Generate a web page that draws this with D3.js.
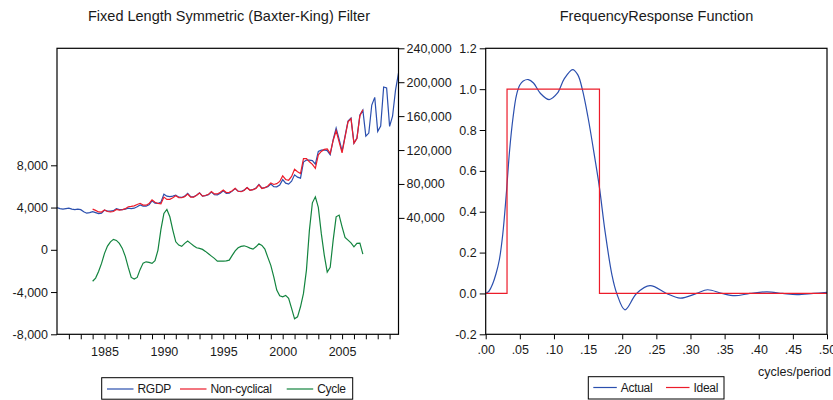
<!DOCTYPE html>
<html><head><meta charset="utf-8">
<script src="https://cdn.jsdelivr.net/npm/d3@7"></script>
<style>
body{margin:0;background:#fff}
svg text{font-family:"Liberation Sans",Arial,sans-serif;fill:#1a1a1a}
</style>
</head><body>
<svg id="c" width="833" height="400"></svg>
<script>
// ---------------- data ----------------
const firstYear = 1981;               // 1981Q1, quarterly
const rgdp = [
 52050,50870,50270,50870, 51460,50270,49680,50270, 49680,47320,45550,46140, 47320,46140,44960,45550,
 49090,47910,47910,48500, 50870,49680,49680,50270, 51460,50870,51460,53230, 55350,53820,53820,55590,
 60070,57360,57000,58540, 67980,65620,65030,65620, 66800,64440,64090,65620, 68810,65030,64800,66800,
 69520,65620,66210,67390, 70340,67390,67160,69160, 71880,68810,69160,71530, 74710,71530,71170,72710,
 75900,72710,73300,75070, 79440,75070,75660,76840, 79790,76840,76600,78610, 85100,80970,79790,83330,
 90770,88050,86870,105760, 108120,108120,107530,103400, 118400,119930,120280,119340, 114380,132210,145900,132920,
 118750,136460,154170,157710, 128190,134100,161250,167150, 136460,140000,173060,182150, 142010,148260,194310,193130,
 147910,160070,190770,210840
];
const cycleFirstIndex = 12;           // 1984Q1 .. 2006Q4
const cycle = [
 -2980,-2680,-2045,-1290, -340,350,757,985, 890,606,133,-625, -1666,-2613,-2774,-2613,
 -1855,-1260,-1136,-1196, -1290,-1040,-30,1930, 3446,3824,3124,1865, 757,445,322,606,
 824,606,379,189, 133,38,-151,-379, -597,-814,-1070,-1070, -1070,-1040,-975,-530,
 -95,189,322,379, 284,161,66,284, 568,416,66,-720, -1477,-2556,-3815,-4355,
 -4450,-4317,-4601,-5548, -6532,-6343,-5396,-4128, -1922,1865,4450,5017, 4014,1552,-502,-2111,
 -1666,918,3124,3285, 2177,1174,918,663, 284,606,634,-407
];
const nonCyclical = [
 50300,48820,47005,46840, 49430,47560,47153,47515, 49980,49074,49547,50895, 53126,53483,54234,55843,
 57205,55080,54956,56786, 61360,58400,57030,56610, 64534,61796,61906,63755, 66043,63995,63768,65014,
 67986,64424,64421,66611, 69387,65582,66361,67769, 70937,68204,68230,70230, 72950,69850,70135,72060,
 74805,71341,70848,72331, 75616,72549,73234,74786, 78872,74654,75594,77560, 81267,79396,80415,82965,
 89550,85287,84391,88878, 97302,94393,92266,109888, 110042,106255,103080,98383, 114386,118378,120782,121451,
 116046,131292,142776,129635, 116573,135286,153252,157047, 127906,133494,160616,167557
];

const leftTicks = [-8000,-4000,0,4000,8000];
const rightTicks = [40000,80000,120000,160000,200000,240000];
const yearLabels = [1985,1990,1995,2000,2005];

const freq   = [0,0.005,0.01,0.015,0.02,0.025,0.03,0.035,0.04,0.045,0.05,0.055,0.0625,0.07,0.08,0.093,0.105,0.115,0.1274,0.135,0.1415,0.15,0.16,0.1667,0.175,0.185,0.192,0.204,0.221,0.2407,0.265,0.285,0.309,0.325,0.346,0.365,0.387,0.412,0.435,0.456,0.48,0.5];
const actual = [0,0.012,0.045,0.095,0.165,0.29,0.48,0.70,0.86,0.97,1.02,1.04,1.047,1.03,0.98,0.949,0.98,1.05,1.096,1.07,1.0,0.86,0.66,0.517,0.30,0.09,0.0,-0.08,0,0.038,0,-0.023,0,0.018,0,-0.011,0,0.008,0,-0.006,0,0.005];
const idealFreq = [0,0.03125,0.03125,0.16667,0.16667,0.5];
const idealVal  = [0,0,1,1,0,0];
const freqTicks = [0,0.05,0.1,0.15,0.2,0.25,0.3,0.35,0.4,0.45,0.5];
const respTicks = [-0.2,0,0.2,0.4,0.6,0.8,1.0,1.2];

// ---------------- styles ----------------
const BLUE="#2b4fae", RED="#ec1c2a", GREEN="#13843f";
const loc = d3.formatLocale({decimal:".",thousands:",",grouping:[3],currency:["",""],minus:"-"});
const fmtInt = loc.format(",");
const fmt1 = loc.format(".1f");
const fmtF = d => loc.format(".2f")(d).replace(/^0/,"");

const svg = d3.select("#c");

// ---------------- left chart ----------------
const L = {x0:57,x1:398.5,y0:48.3,y1:334.3};
const x = d3.scaleLinear().domain([1981,2009.75]).range([L.x0,L.x1]);
const yL = d3.scaleLinear().domain([-8000,19077]).range([L.y1,L.y0]);
const yR = d3.scaleLinear().domain([-97300,240000]).range([L.y1,L.y0]);
const tq = i => firstYear + i/4;

svg.append("text").attr("x",229).attr("y",21).attr("text-anchor","middle")
  .style("font-size","14.5px").text("Fixed Length Symmetric (Baxter-King) Filter");

const gl = svg.append("g");
const axL = gl.append("g").attr("transform",`translate(${L.x0},0)`)
  .call(d3.axisLeft(yL).tickValues(leftTicks).tickFormat(fmtInt).tickSize(6).tickPadding(3));
const axR = gl.append("g").attr("transform",`translate(${L.x1},0)`)
  .call(d3.axisRight(yR).tickValues(rightTicks).tickFormat(fmtInt).tickSize(6).tickPadding(2));
const years = d3.range(1982,2010);
const axB = gl.append("g").attr("transform",`translate(0,${L.y1})`)
  .call(d3.axisBottom(x).tickValues(years).tickFormat(d=>yearLabels.includes(d)?String(d):"").tickSize(5).tickPadding(8));
[axL,axR,axB].forEach(a=>{a.select(".domain").remove();a.selectAll("line").attr("stroke","#000");
  a.selectAll("text").style("font-size","12.5px").attr("fill","#1a1a1a");});

const lineR = d3.line().x(d=>x(d[0])).y(d=>yR(d[1]));
const lineL = d3.line().x(d=>x(d[0])).y(d=>yL(d[1]));
gl.append("path").attr("d",lineR(rgdp.map((v,i)=>[tq(i),v]))).attr("fill","none").attr("stroke",BLUE).attr("stroke-width",1.2);
gl.append("path").attr("d",lineR(nonCyclical.map((v,k)=>[tq(k+cycleFirstIndex),v]))).attr("fill","none").attr("stroke",RED).attr("stroke-width",1.2);
gl.append("path").attr("d",lineL(cycle.map((v,k)=>[tq(k+cycleFirstIndex),v]))).attr("fill","none").attr("stroke",GREEN).attr("stroke-width",1.2);
gl.append("rect").attr("x",L.x0).attr("y",L.y0).attr("width",L.x1-L.x0).attr("height",L.y1-L.y0)
  .attr("fill","none").attr("stroke","#000").attr("stroke-width",1.2);

// legend left
const lg = svg.append("g");
lg.append("rect").attr("x",101.7).attr("y",377.7).attr("width",251).attr("height",21.5).attr("fill","#fff").attr("stroke","#000");
[["RGDP",BLUE,107],["Non-cyclical",RED,180],["Cycle",GREEN,286.7]].forEach(([t,c,lx])=>{
  lg.append("line").attr("x1",lx).attr("x2",lx+26.5).attr("y1",389).attr("y2",389).attr("stroke",c).attr("stroke-width",1.2);
  lg.append("text").attr("x",lx+30.5).attr("y",393.3).style("font-size","12px").style("letter-spacing","-0.3px").text(t);
});

// ---------------- right chart ----------------
const R = {x0:485.7,x1:827,y0:48.3,y1:334.3};
const fx = d3.scaleLinear().domain([0,0.5]).range([R.x0,R.x1]);
const fy = d3.scaleLinear().domain([-0.2,1.2]).range([R.y1,R.y0]);
svg.append("text").attr("x",656.5).attr("y",21).attr("text-anchor","middle")
  .style("font-size","14.5px").text("FrequencyResponse Function");
const gr = svg.append("g");
const ay = gr.append("g").attr("transform",`translate(${R.x0},0)`)
  .call(d3.axisLeft(fy).tickValues(respTicks).tickFormat(fmt1).tickSize(6).tickPadding(3));
const ax = gr.append("g").attr("transform",`translate(0,${R.y1})`)
  .call(d3.axisBottom(fx).tickValues(freqTicks).tickFormat(fmtF).tickSize(5).tickPadding(6));
[ay,ax].forEach(a=>{a.select(".domain").remove();a.selectAll("line").attr("stroke","#000");
  a.selectAll("text").style("font-size","12.5px").attr("fill","#1a1a1a");});
gr.append("text").attr("x",831).attr("y",376).attr("text-anchor","end").style("font-size","12.5px").text("cycles/period");

const fl = d3.line().x(d=>fx(d[0])).y(d=>fy(d[1])).curve(d3.curveCatmullRom.alpha(0.5));
gr.append("path").attr("d",fl(freq.map((f,i)=>[f,actual[i]])))
  .attr("fill","none").attr("stroke",BLUE).attr("stroke-width",1.2);
gr.append("path").attr("d",d3.line().x(d=>fx(d[0])).y(d=>fy(d[1]))(idealFreq.map((f,i)=>[f,idealVal[i]])))
  .attr("fill","none").attr("stroke",RED).attr("stroke-width",1.2);
gr.append("rect").attr("x",R.x0).attr("y",R.y0).attr("width",R.x1-R.x0).attr("height",R.y1-R.y0)
  .attr("fill","none").attr("stroke","#000").attr("stroke-width",1.2);

const rg = svg.append("g");
rg.append("rect").attr("x",588.3).attr("y",376.7).attr("width",135.7).attr("height",22.3).attr("fill","#fff").attr("stroke","#000");
[["Actual",BLUE,593.3],["Ideal",RED,666]].forEach(([t,c,lx])=>{
  rg.append("line").attr("x1",lx).attr("x2",lx+23.5).attr("y1",387.5).attr("y2",387.5).attr("stroke",c).attr("stroke-width",1.2);
  rg.append("text").attr("x",lx+27.5).attr("y",392).style("font-size","12px").style("letter-spacing","-0.3px").text(t);
});
</script>
</body></html>
